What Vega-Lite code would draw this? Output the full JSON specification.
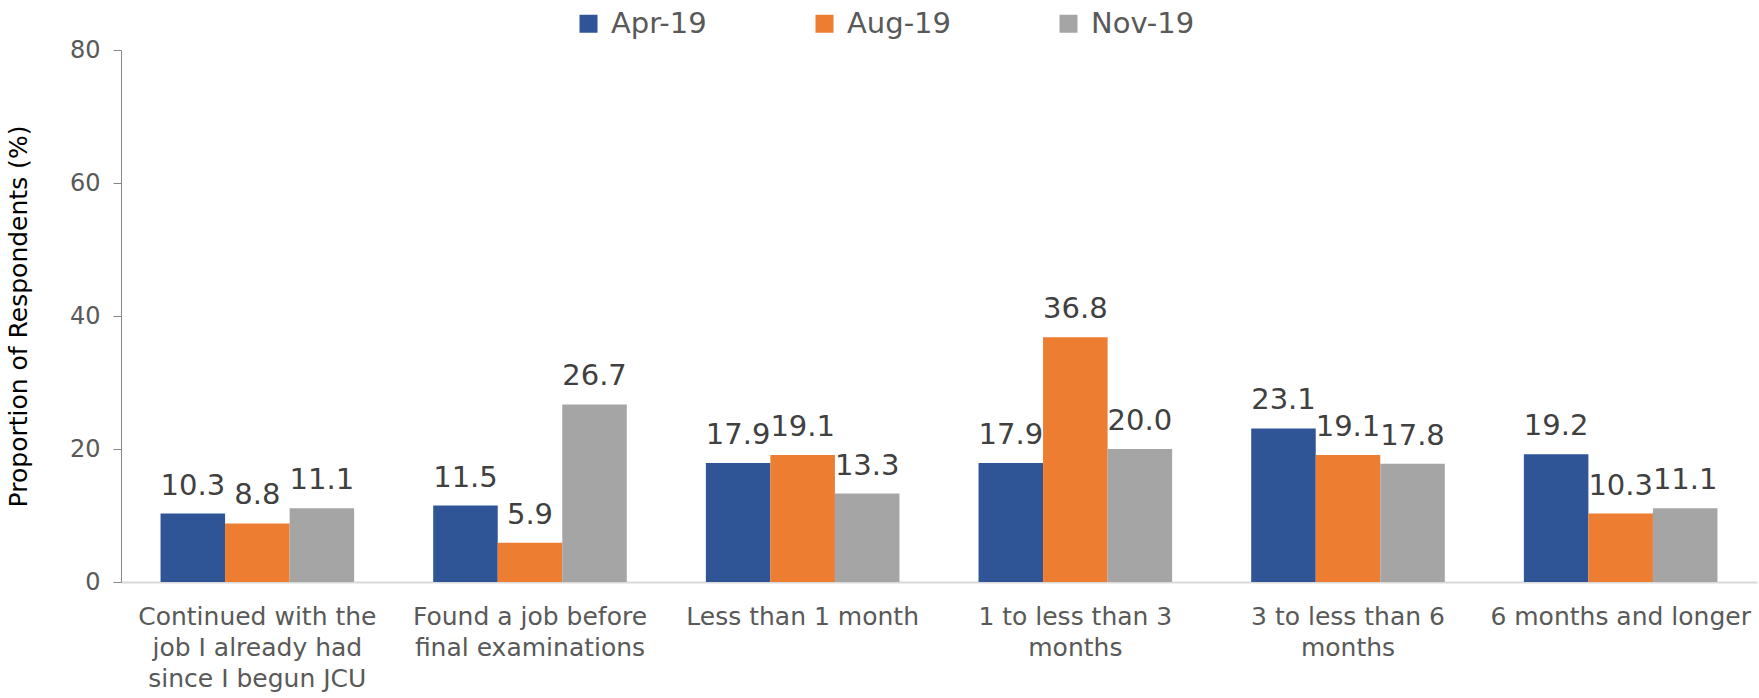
{
  "$schema": "https://vega.github.io/schema/vega-lite/v6.json",
  "autosize": {"type": "none"},
  "padding": {"left": 121, "top": 50, "right": 2, "bottom": 116},
  "width": 1636,
  "height": 532,
  "background": "white",
  "config": {
    "font": "DejaVu Sans",
    "view": {"stroke": null},
    "text": {"font": "DejaVu Sans"}
  },
  "data": {
    "values": [
      {"category": "Continued with the|job I already had|since I begun JCU", "period": "Apr-19", "value": 10.3},
      {"category": "Continued with the|job I already had|since I begun JCU", "period": "Aug-19", "value": 8.8},
      {"category": "Continued with the|job I already had|since I begun JCU", "period": "Nov-19", "value": 11.1},
      {"category": "Found a job before|final examinations", "period": "Apr-19", "value": 11.5},
      {"category": "Found a job before|final examinations", "period": "Aug-19", "value": 5.9},
      {"category": "Found a job before|final examinations", "period": "Nov-19", "value": 26.7},
      {"category": "Less than 1 month", "period": "Apr-19", "value": 17.9},
      {"category": "Less than 1 month", "period": "Aug-19", "value": 19.1},
      {"category": "Less than 1 month", "period": "Nov-19", "value": 13.3},
      {"category": "1 to less than 3|months", "period": "Apr-19", "value": 17.9},
      {"category": "1 to less than 3|months", "period": "Aug-19", "value": 36.8},
      {"category": "1 to less than 3|months", "period": "Nov-19", "value": 20.0},
      {"category": "3 to less than 6|months", "period": "Apr-19", "value": 23.1},
      {"category": "3 to less than 6|months", "period": "Aug-19", "value": 19.1},
      {"category": "3 to less than 6|months", "period": "Nov-19", "value": 17.8},
      {"category": "6 months and longer", "period": "Apr-19", "value": 19.2},
      {"category": "6 months and longer", "period": "Aug-19", "value": 10.3},
      {"category": "6 months and longer", "period": "Nov-19", "value": 11.1}
    ]
  },
  "encoding": {
    "x": {
      "field": "category",
      "type": "nominal",
      "sort": null,
      "scale": {"paddingInner": 0.29, "paddingOuter": 0.145},
      "axis": {
        "title": null,
        "labelAngle": 0,
        "labelExpr": "split(datum.label, '|')",
        "labelFontSize": 25,
        "labelColor": "#595959",
        "labelLineHeight": 31,
        "labelPadding": 22,
        "labelBaseline": "top",
        "labelLimit": 400,
        "ticks": false,
        "domainColor": "#d9d9d9",
        "domainWidth": 2,
        "grid": false
      }
    },
    "xOffset": {"field": "period", "type": "nominal", "sort": ["Apr-19", "Aug-19", "Nov-19"]},
    "y": {
      "field": "value",
      "type": "quantitative",
      "scale": {"domain": [0, 80]},
      "axis": {
        "title": "Proportion of Respondents (%)",
        "titleFontSize": 25,
        "titleFontWeight": "normal",
        "titleColor": "#000000",
        "titlePadding": 38,
        "values": [0, 20, 40, 60, 80],
        "labelFontSize": 24,
        "labelColor": "#595959",
        "labelPadding": 13,
        "tickSize": 8,
        "tickColor": "#868686",
        "domainColor": "#868686",
        "grid": false
      }
    }
  },
  "layer": [
    {
      "mark": {"type": "bar"},
      "encoding": {
        "color": {
          "field": "period",
          "type": "nominal",
          "scale": {"domain": ["Apr-19", "Aug-19", "Nov-19"], "range": ["#2F5597", "#ED7D31", "#A5A5A5"]},
          "legend": {
            "title": null,
            "orient": "none",
            "direction": "horizontal",
            "legendX": 453,
            "legendY": -41,
            "symbolType": "square",
            "symbolSize": 324,
            "labelFontSize": 29,
            "labelColor": "#595959",
            "labelOffset": 8,
            "columnPadding": 103,
            "symbolStrokeWidth": 0
          }
        }
      }
    },
    {
      "mark": {"type": "text", "baseline": "alphabetic", "dy": -19, "fontSize": 29, "color": "#404040"},
      "encoding": {
        "text": {"field": "value", "type": "quantitative", "format": ".1f"}
      }
    }
  ]
}
